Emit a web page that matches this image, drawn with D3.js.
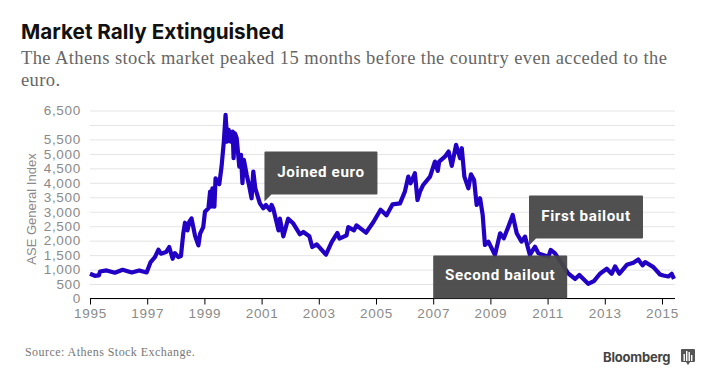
<!DOCTYPE html>
<html>
<head>
<meta charset="utf-8">
<script src="https://cdn.jsdelivr.net/npm/d3@7"></script>
<style>
body{margin:0;background:#fff;}
svg{display:block;}
.yaxis text,.xaxis text{font-family:"Liberation Sans",sans-serif;font-size:13.5px;letter-spacing:0.7px;fill:#8a8a8a;}
</style>
</head>
<body>
<svg width="720" height="391"></svg>
<script>
var years = [1995.00,1995.17,1995.31,1995.35,1995.58,1995.87,1996.14,1996.46,1996.72,1996.98,
1997.12,1997.27,1997.39,1997.48,1997.66,1997.77,1997.89,1997.97,1998.09,1998.18,1998.26,1998.32,1998.41,1998.47,1998.55,1998.67,1998.79,1998.85,1998.96,
1999.02,1999.14,1999.20,1999.24,1999.28,1999.35,1999.39,1999.52,1999.60,1999.68,1999.74,1999.80,1999.85,1999.92,1999.99,
2000.02,2000.07,2000.13,2000.22,2000.28,2000.33,2000.38,2000.48,2000.56,2000.65,2000.71,2000.78,2000.94,
2001.06,2001.15,2001.29,2001.35,2001.41,2001.59,2001.64,2001.76,2001.93,2002.11,2002.34,2002.46,2002.67,2002.77,2002.93,
2003.25,2003.45,2003.65,2003.72,2003.97,2004.03,2004.23,2004.32,2004.65,2004.91,2005.16,2005.37,2005.58,2005.84,
2006.01,2006.13,2006.21,2006.36,2006.45,2006.54,2006.65,2006.89,2007.06,2007.16,2007.21,2007.41,2007.54,2007.65,2007.80,2007.94,2008.00,2008.09,2008.23,2008.32,2008.43,2008.52,2008.64,2008.73,2008.81,2008.93,
2009.16,2009.34,2009.47,2009.63,2009.78,2009.92,2010.09,2010.21,2010.38,2010.56,2010.68,2011.03,2011.11,2011.26,2011.49,2011.72,2011.96,
2012.11,2012.42,2012.62,2012.83,2013.07,2013.24,2013.36,2013.51,2013.77,2014.00,2014.17,2014.32,2014.41,2014.70,2014.93,2015.05,2015.22,2015.34,2015.42];
var values = [855,785,797,935,970,890,993,900,970,900,
1260,1430,1685,1550,1605,1780,1375,1570,1430,1465,2240,2620,2355,2645,2770,2180,1835,2240,2470,
3000,3120,3700,3180,3810,3175,4155,3950,4560,5425,6350,5425,5830,5425,5770,
4850,5710,5540,4560,4965,3985,4790,4270,3925,3465,4390,3810,3290,
3120,3235,3060,3235,3100,2355,2760,2150,2760,2590,2220,2300,2150,1780,1870,
1515,1950,2265,2070,2185,2470,2355,2530,2275,2645,3070,2875,3255,3290,
3695,4215,3985,4330,3405,3695,3925,4215,4735,4410,4735,4905,5080,4585,5310,4850,5195,4215,3810,4295,4100,3235,3465,2890,1850,1965,
1505,2255,2080,2485,2890,2255,1965,2140,1505,1790,1560,1445,1680,1560,1215,870,675,
815,510,600,855,1030,855,1110,855,1165,1235,1350,1145,1260,1085,830,795,760,855,680];

var yTicks = [0,500,1000,1500,2000,2500,3000,3500,4000,4500,5000,5500,6000,6500];
var yLabels = ["0","500","1,000","1,500","2,000","2,500","3,000","3,500","4,000","4,500","5,000","5,500","","6,500"];
var xTicks = [1995,1997,1999,2001,2003,2005,2007,2009,2011,2013,2015];

// callouts: top left corner of each box in data units
var noteLabels = ["Joined euro","First bailout","Second bailout"];
var noteYears = [2001.1,2010.35,2007.0];
var noteValues = [5080,3560,1490];
var noteWidths = [113,114,134];
var notePointer = [true,true,false];

var svg = d3.select('svg');
var x = d3.scaleLinear().domain([1995,2015.455]).range([90,675]);
var y = d3.scaleLinear().domain([0,6500]).range([298.5,110.5]);

svg.append('text').attr('x',21).attr('y',39)
   .style('font-family','Inter,sans-serif').style('font-weight',700).style('font-size','20.7px').style('fill','#111')
   .text('Market Rally Extinguished');
svg.append('text').attr('x',21).attr('y',64)
   .style('font-family','"Liberation Serif",serif').style('font-size','18.5px').style('fill','#666').style('letter-spacing','0.41px')
   .text('The Athens stock market peaked 15 months before the country even acceded to the');
svg.append('text').attr('x',21).attr('y',86)
   .style('font-family','"Liberation Serif",serif').style('font-size','18.5px').style('fill','#666').style('letter-spacing','0.41px')
   .text('euro.');

// gridlines and y labels
var yAxis = svg.append('g').attr('class','yaxis').attr('transform','translate(90,0)')
   .call(d3.axisLeft(y).tickValues(yTicks).tickSize(-585).tickPadding(9)
   .tickFormat(function(d,i){return yLabels[i]}));
yAxis.select('.domain').remove();
yAxis.selectAll('line').attr('stroke','#e4e4e4');

svg.append('text').attr('transform','translate(36,209) rotate(-90)').attr('text-anchor','middle')
   .style('font-family','"Liberation Sans",sans-serif').style('font-size','13px').style('fill','#8a8a8a')
   .text('ASE General Index');

var line = d3.line().x(function(d){return x(d)}).y(function(d,i){return y(values[i])});
svg.append('path').attr('d',line(years)).attr('fill','none')
   .attr('stroke','#2200c4').attr('stroke-width',4.2).attr('stroke-linejoin','round');

var xAxis = svg.append('g').attr('class','xaxis').attr('transform','translate(0,298.5)')
   .call(d3.axisBottom(x).tickValues(xTicks).tickSize(6).tickPadding(4).tickFormat(d3.format('d')));
xAxis.select('.domain').attr('stroke','#000').attr('d','M90,0H675');
xAxis.selectAll('line').attr('stroke','#000');

// callouts sit over the line, a little see-through
var notes = svg.selectAll('.note').data(noteLabels).enter().append('g').attr('class','note')
   .attr('transform',function(d,i){return 'translate('+x(noteYears[i])+','+y(noteValues[i])+')'});
notes.append('path').attr('fill','#474747').attr('fill-opacity',0.95)
   .attr('d',function(d,i){
     var w = noteWidths[i], h = 43;
     return 'M1,0H'+(w-1)+'Q'+w+',0 '+w+',1V'+(h-1)+'Q'+w+','+h+' '+(w-1)+','+h
       +(notePointer[i] ? 'H7L0,'+(h+7)+'V1Q0,0 1,0Z' : 'H1Q0,'+h+' 0,'+(h-1)+'V1Q0,0 1,0Z');
   });
notes.append('text').attr('x',function(d,i){return noteWidths[i]/2}).attr('y',25).attr('text-anchor','middle')
   .style('font-family','Roboto,sans-serif').style('font-weight',700).style('font-size','15.2px')
   .style('letter-spacing','0.6px').style('fill','#fff')
   .text(function(d){return d});

svg.append('text').attr('x',25).attr('y',356)
   .style('font-family','"Liberation Serif",serif').style('font-size','12px').style('fill','#777').style('letter-spacing','0.45px')
   .text('Source: Athens Stock Exchange.');

svg.append('text').attr('x',603).attr('y',362)
   .style('font-family','Inter,sans-serif').style('font-weight',700).style('font-size','13px').style('fill','#444').style('letter-spacing','-0.2px')
   .text('Bloomberg');
var logo = svg.append('g').attr('transform','translate(681,349)');
logo.append('path').attr('fill','#555').attr('d','M1,0H13Q14,0 14,1V12Q14,13 13,13H9L7,16L5,13H1Q0,13 0,12V1Q0,0 1,0Z');
logo.selectAll('rect').data([5,2,3,6]).enter().append('rect').attr('fill','#fff')
   .attr('x',function(d,i){return 2.5+i*2.5}).attr('y',function(d){return d}).attr('width',1.4)
   .attr('height',function(d){return 12-d});
</script>
</body>
</html>
